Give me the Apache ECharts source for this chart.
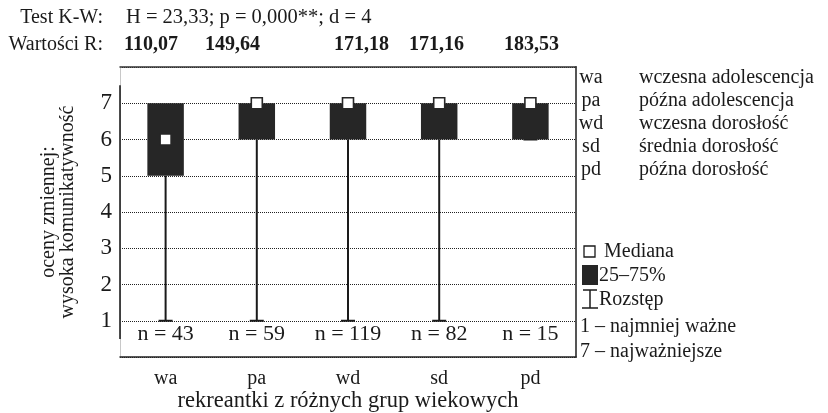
<!DOCTYPE html>
<html><head><meta charset="utf-8">
<script src="https://cdn.jsdelivr.net/npm/echarts@6/dist/echarts.min.js"></script>
<style>html,body{margin:0;padding:0;background:#fff}#c{width:828px;height:413px}</style>
</head><body><div id="c"></div>
<script>
const categories = ['wa', 'pa', 'wd', 'sd', 'pd'];
const minVals = [1, 1, 1, 1, 6];
const q1Vals = [5, 6, 6, 6, 6];
const medianVals = [6, 7, 7, 7, 7];
const q3Vals = [7, 7, 7, 7, 7];
const maxVals = [7, 7, 7, 7, 7];
const nCounts = [43, 59, 119, 82, 15];
const rankValues = ['110,07', '149,64', '171,18', '171,16', '183,53'];
const yTickLabels = [1, 2, 3, 4, 5, 6, 7];
const groupNames = ['wczesna adolescencja', 'późna adolescencja', 'wczesna dorosłość', 'średnia dorosłość', 'późna dorosłość'];

const FONT = 'Liberation Serif';
const INK = '#1a1a1a';
const BOX = '#262626';

const chart = echarts.init(document.getElementById('c'), null, {renderer: 'canvas'});

const boxData = categories.map((c, i) => [i, minVals[i], q1Vals[i], medianVals[i], q3Vals[i], maxVals[i], nCounts[i]]);

function renderBox(params, api) {
  const i = api.value(0);
  const x = api.coord([i, 0])[0];
  const yMin = api.coord([i, api.value(1)])[1];
  const yQ1 = api.coord([i, api.value(2)])[1];
  const yMed = api.coord([i, api.value(3)])[1];
  const yQ3 = api.coord([i, api.value(4)])[1];
  const yMax = api.coord([i, api.value(5)])[1];
  const bw = api.size([1, 0])[0] * 0.4;
  const cap = 14;
  const ms = 11;
  const yOne = api.coord([i, 1])[1];
  const children = [];
  if (i === 0) {
    const cs = params.coordSys;
    children.push({type: 'line', shape: {x1: cs.x, y1: api.coord([i, 0.5])[1], x2: cs.x, y2: api.coord([i, 7.5])[1]},
      style: {stroke: '#111', lineWidth: 1.5}, z2: 5});
  }
  children.push({type: 'line', shape: {x1: x, y1: yMin, x2: x, y2: yQ1}, style: {stroke: INK, lineWidth: 2}});
  children.push({type: 'line', shape: {x1: x - cap / 2, y1: yMin, x2: x + cap / 2, y2: yMin}, style: {stroke: INK, lineWidth: 2}});
  children.push({type: 'line', shape: {x1: x, y1: yQ3, x2: x, y2: yMax}, style: {stroke: INK, lineWidth: 2}});
  children.push({type: 'rect', shape: {x: x - bw / 2, y: yQ3, width: bw, height: yQ1 - yQ3}, style: {fill: BOX}});
  children.push({type: 'rect', shape: {x: x - ms / 2, y: yMed - ms / 2, width: ms, height: ms},
    style: {fill: '#fff', stroke: BOX, lineWidth: 1.6}});
  children.push({type: 'text', x: x, y: yOne + 13,
    style: {text: 'n = ' + api.value(6), font: '22px "' + FONT + '"', fill: INK, align: 'center', verticalAlign: 'middle'}});
  return {type: 'group', children: children};
}

const legendAbbrY = [78, 101, 124, 147, 170];
const TXT = '20px "' + FONT + '"';
const graphics = [];
graphics.push({type: 'text', x: 103, y: 18, style: {text: 'Test K-W:', font: TXT, fill: INK, align: 'right', verticalAlign: 'middle'}});
graphics.push({type: 'text', x: 126, y: 18, style: {text: 'H = 23,33; p = 0,000**; d = 4', font: '20.5px "' + FONT + '"', fill: INK, align: 'left', verticalAlign: 'middle'}});
graphics.push({type: 'text', x: 103, y: 45, style: {text: 'Wartości R:', font: TXT, fill: INK, align: 'right', verticalAlign: 'middle'}});
const rankX = [124, 205, 334, 409, 504];
rankValues.forEach((v, i) => {
  graphics.push({type: 'text', x: rankX[i], y: 45, style: {text: v, font: 'bold 20px "' + FONT + '"', fill: INK, align: 'left', verticalAlign: 'middle'}});
});
categories.forEach((c, i) => {
  graphics.push({type: 'text', x: 591, y: legendAbbrY[i], style: {text: c, font: TXT, fill: INK, align: 'center', verticalAlign: 'middle'}});
  graphics.push({type: 'text', x: 639, y: legendAbbrY[i], style: {text: groupNames[i], font: TXT, fill: INK, align: 'left', verticalAlign: 'middle'}});
});
// legend symbols
graphics.push({type: 'rect', shape: {x: 584, y: 246, width: 11, height: 11}, style: {fill: '#fff', stroke: INK, lineWidth: 1.3}});
graphics.push({type: 'text', x: 604, y: 252, style: {text: 'Mediana', font: TXT, fill: INK, align: 'left', verticalAlign: 'middle'}});
graphics.push({type: 'rect', shape: {x: 582, y: 265, width: 16, height: 20}, style: {fill: BOX}});
graphics.push({type: 'text', x: 599, y: 276, style: {text: '25–75%', font: TXT, fill: INK, align: 'left', verticalAlign: 'middle'}});
graphics.push({type: 'line', shape: {x1: 583, y1: 290, x2: 597, y2: 290}, style: {stroke: INK, lineWidth: 1.5}});
graphics.push({type: 'line', shape: {x1: 590, y1: 290, x2: 590, y2: 308}, style: {stroke: INK, lineWidth: 1.5}});
graphics.push({type: 'line', shape: {x1: 582, y1: 308, x2: 598, y2: 308}, style: {stroke: INK, lineWidth: 1.5}});
graphics.push({type: 'text', x: 599, y: 300, style: {text: 'Rozstęp', font: TXT, fill: INK, align: 'left', verticalAlign: 'middle'}});
graphics.push({type: 'text', x: 580, y: 327, style: {text: '1 – najmniej ważne', font: TXT, fill: INK, align: 'left', verticalAlign: 'middle'}});
graphics.push({type: 'text', x: 580, y: 352, style: {text: '7 – najważniejsze', font: TXT, fill: INK, align: 'left', verticalAlign: 'middle'}});

const option = {
  animation: false,
  backgroundColor: '#fff',
  grid: {left: 120, right: 252, top: 67, bottom: 56, containLabel: false, outerBoundsMode: 'none'},
  xAxis: [{
    type: 'category', data: categories, position: 'bottom',
    axisLine: {onZero: false, lineStyle: {color: '#222', width: 1.5}},
    axisTick: {inside: true, length: 4, alignWithLabel: true, lineStyle: {color: '#222'}},
    axisLabel: {fontFamily: FONT, fontSize: 20, color: INK, margin: 12},
    name: 'rekreantki z różnych grup wiekowych', nameLocation: 'middle', nameGap: 33,
    nameMoveOverlap: false,
    nameTextStyle: {fontFamily: FONT, fontSize: 22.5, color: INK},
    z: 10
  }, {
    type: 'category', data: categories, position: 'top',
    axisLine: {onZero: false, lineStyle: {color: '#333', width: 1.5}},
    axisTick: {inside: true, length: 4, alignWithLabel: true, lineStyle: {color: '#333'}},
    axisLabel: {show: false}, z: 10
  }],
  yAxis: [{
    type: 'value', min: 0, max: 8, interval: 1, position: 'left',
    axisLine: {show: true, onZero: false, lineStyle: {color: '#c8c8c8', width: 1}},
    axisTick: {show: false},
    axisLabel: {fontFamily: FONT, fontSize: 23, color: INK, margin: 8,
      formatter: v => (yTickLabels.indexOf(v) >= 0 ? String(v) : '')},
    splitLine: {show: true, lineStyle: {type: 'dotted', color: '#222', width: 1}},
    name: 'oceny zmiennej:\nwysoka komunikatywność', nameLocation: 'middle', nameRotate: 90, nameGap: 43,
    nameMoveOverlap: false,
    nameTextStyle: {fontFamily: FONT, fontSize: 20, color: INK, lineHeight: 19}
  }, {
    type: 'value', min: 0, max: 8, interval: 1, position: 'right',
    axisLine: {show: true, onZero: false, lineStyle: {color: '#555', width: 2}},
    axisTick: {show: false}, axisLabel: {show: false}, splitLine: {show: false}
  }],
  series: [{
    type: 'custom', xAxisIndex: 0, yAxisIndex: 0,
    renderItem: renderBox, data: boxData, z: 5, clip: false
  }],
  graphic: graphics
};
chart.setOption(option);
</script>
</body></html>
